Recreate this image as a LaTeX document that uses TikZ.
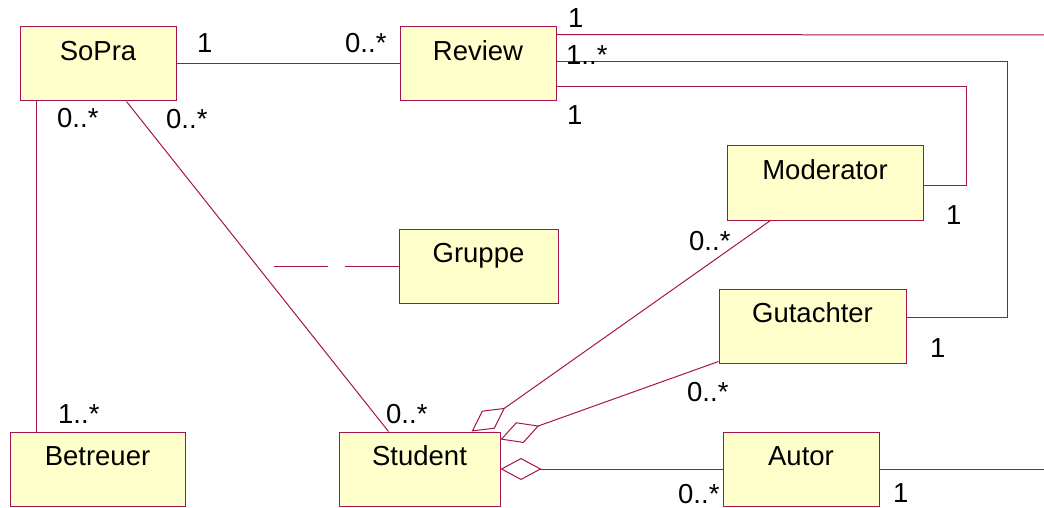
\documentclass[tikz,border=0pt]{standalone}
\usepackage{fontspec}
\setmainfont{Liberation Sans}
\usetikzlibrary{calc,arrows.meta}
\definecolor{umlline}{RGB}{165,20,75}
\definecolor{umlfill}{RGB}{255,255,204}
\begin{document}
\begin{tikzpicture}[x=1pt,y=-1pt,
  umlbox/.style={draw=umlline,fill=umlfill,line width=1pt,inner sep=0pt,minimum height=74pt},
  boxtext/.style={anchor=base,inner sep=0pt,font=\fontsize{27.5}{32}\selectfont},
  mult/.style={anchor=base west,inner sep=0pt,font=\fontsize{27.5}{32}\selectfont},
  conn/.style={draw=umlline,line width=1pt},
  agg/.style={conn,{Diamond[open,length=41pt,width=22pt,line width=1pt]}-}]
\useasboundingbox (0,0) rectangle (1044,508);
% boxes
\node[umlbox,minimum width=156pt] (sopra) at (98,64) {};
\node[umlbox,minimum width=156pt] (review) at (478,64) {};
\node[umlbox,minimum width=196pt] (moderator) at (825,183) {};
\node[umlbox,minimum width=159pt] (gruppe) at (478.5,266) {};
\node[umlbox,minimum width=187pt] (gutachter) at (812.5,326) {};
\node[umlbox,minimum width=175pt] (betreuer) at (97.5,469) {};
\node[umlbox,minimum width=161pt] (student) at (419.5,469) {};
\node[umlbox,minimum width=156pt] (autor) at (801,469) {};
% box texts
\node[boxtext] (sopraT) at ($(sopra.north)+(0,34)$) {SoPra};
\node[boxtext] (reviewT) at ($(review.north)+(0,34)$) {Review};
\node[boxtext] (moderatorT) at ($(moderator.north)+(0,34)$) {Moderator};
\node[boxtext] (gruppeT) at ($(gruppe.north)+(0,34)$) {Gruppe};
\node[boxtext] (gutachterT) at ($(gutachter.north)+(0,34)$) {Gutachter};
\node[boxtext] (betreuerT) at ($(betreuer.north)+(0,34)$) {Betreuer};
\node[boxtext] (studentT) at ($(student.north)+(0,34)$) {Student};
\node[boxtext] (autorT) at ($(autor.north)+(0,34)$) {Autor};
% free ends
\coordinate (edgeA) at (1044,35);
\coordinate (edgeB) at (1044,469);
\coordinate (gdash) at (273,266);
% connectors
\draw[conn] (sopra) -- (review);
\draw[conn] ($(sopra.south west)+(17,0)$) -- ($(betreuer.north west)+(27,0)$);
\draw[conn] ($(sopra.south west)+(107,0)$) -- ($(student.north west)+(50,0)$);
\draw[conn] ($(review.north east)+(0,8)$) -- (edgeA);
\draw[conn] ($(review.north east)+(0,35)$) -| ($(gutachter.north east)+(101,29)$) -- ($(gutachter.north east)+(0,29)$);
\draw[conn] ($(review.north east)+(0,60)$) -| ($(moderator.north east)+(43,40)$) -- ($(moderator.north east)+(0,40)$);
\draw[conn,dash pattern=on 54pt off 17pt] (gruppe.west) -- (gdash);
\draw[agg] ($(student.north west)+(133,0)$) -- ($(moderator.south west)+(44,0)$);
\draw[agg] ($(student.north east)+(0,8)$) -- ($(gutachter.south west)+(0,-2)$);
\draw[agg] (student.east) -- (autor.west);
\draw[conn] (autor.east) -- (edgeB);
% multiplicities
\node[mult] (m1) at (197,53) {1};
\node[mult] (m2) at (345,53) {0..*};
\node[mult] (m3) at (57,128) {0..*};
\node[mult] (m4) at (166,129) {0..*};
\node[mult] (m5) at (568,28) {1};
\node[mult] (m6) at (566,65) {1..*};
\node[mult] (m7) at (567,125) {1};
\node[mult] (m8) at (946,224) {1};
\node[mult] (m9) at (689,250) {0..*};
\node[mult] (m10) at (930,357) {1};
\node[mult] (m11) at (687,401) {0..*};
\node[mult] (m12) at (58,423) {1..*};
\node[mult] (m13) at (386,423) {0..*};
\node[mult] (m14) at (678,503) {0..*};
\node[mult] (m15) at (893,502) {1};
\end{tikzpicture}
\end{document}
